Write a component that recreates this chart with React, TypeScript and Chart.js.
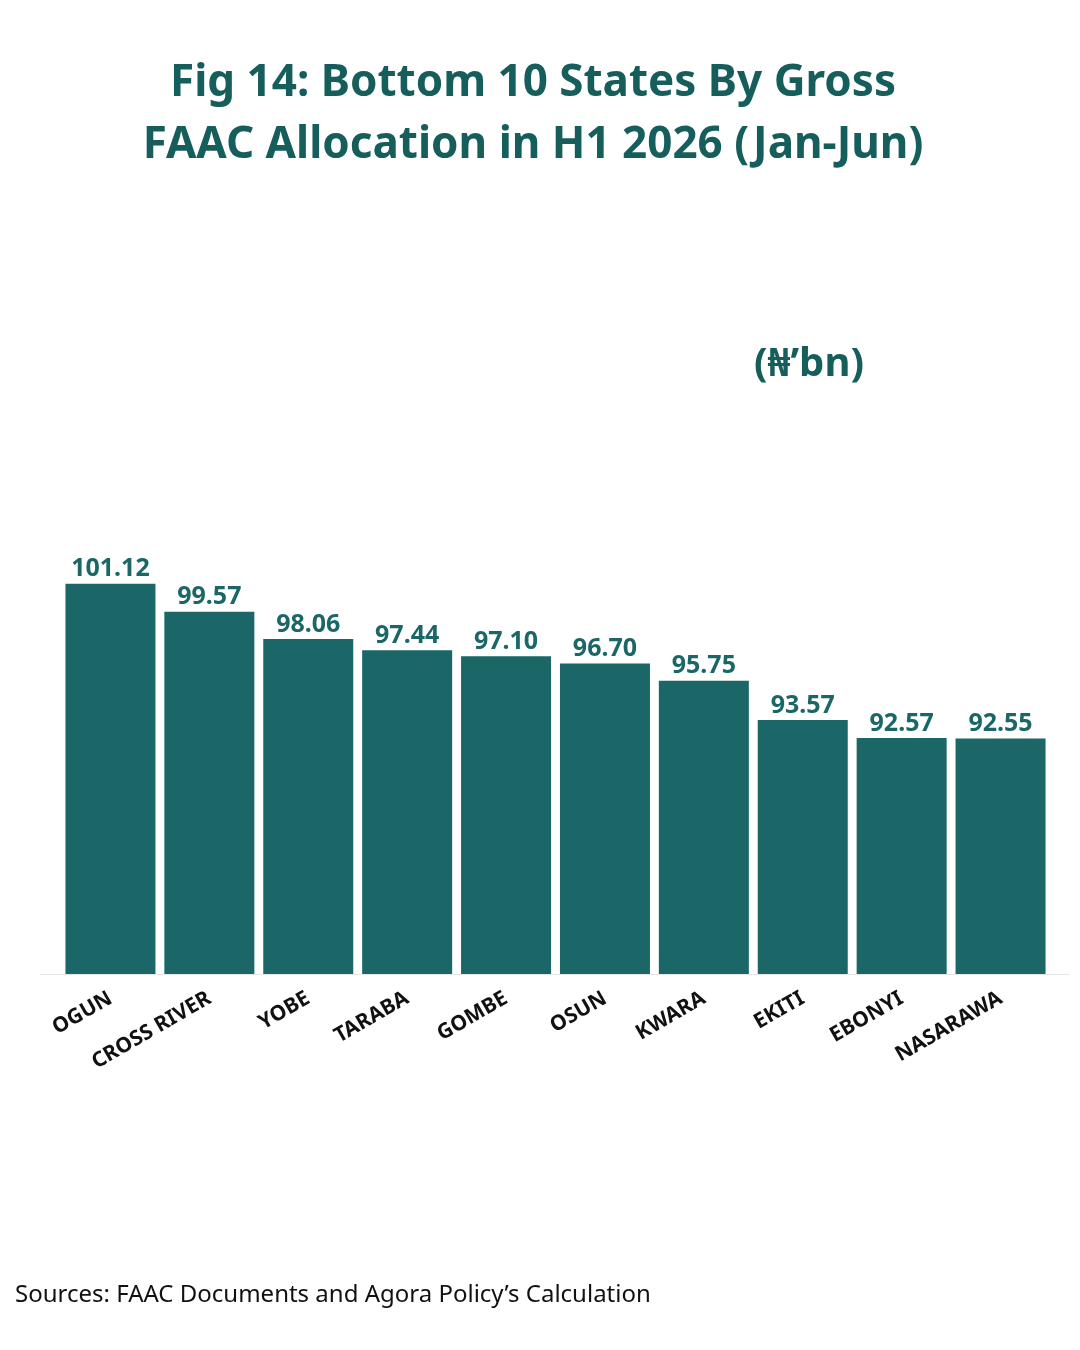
import React, { useEffect, useRef } from "react";
import { Chart, registerables } from "chart.js";
Chart.register(...registerables);

const categories = ["OGUN", "CROSS RIVER", "YOBE", "TARABA", "GOMBE", "OSUN", "KWARA", "EKITI", "EBONYI", "NASARAWA"];
const values = [101.12, 99.57, 98.06, 97.44, 97.1, 96.7, 95.75, 93.57, 92.57, 92.55];

const TEAL = "#1b6767";
const FONT = "'Noto Sans', 'Open Sans', sans-serif";

export default function App() {
  const ref = useRef<HTMLCanvasElement>(null);
  useEffect(() => {
    const labelsPlugin = {
      id: "vals",
      afterDatasetsDraw(chart: any) {
        const ctx = chart.ctx;
        const meta = chart.getDatasetMeta(0);
        ctx.save();
        ctx.fillStyle = TEAL;
        ctx.font = `bold 25px ${FONT}`;
        ctx.textAlign = "center";
        ctx.textBaseline = "bottom";
        meta.data.forEach((b: any, i: number) => {
          ctx.fillText(values[i].toFixed(2), b.x, b.y - 2);
        });
        const y = chart.chartArea.bottom + 0.5;
        ctx.strokeStyle = "#e6e6e6";
        ctx.lineWidth = 1;
        ctx.beginPath();
        ctx.moveTo(40, y);
        ctx.lineTo(1070, y);
        ctx.stroke();
        ctx.restore();
      },
    };
    const chart = new Chart(ref.current!, {
      type: "bar",
      data: {
        labels: categories,
        datasets: [{ data: values, backgroundColor: TEAL, categoryPercentage: 1, barPercentage: 0.91 }],
      },
      options: {
        animation: false,
        responsive: false,
        layout: { padding: { left: 61, right: 30, top: 400, bottom: 0 } },
        plugins: { legend: { display: false }, tooltip: { enabled: false } },
        scales: {
          y: { display: false, min: 79.5, max: 111.3 },
          x: {
            grid: { display: false },
            border: { display: false },
            ticks: { color: "#111", font: { family: FONT, size: 21, weight: "bold" }, maxRotation: 30, minRotation: 30, padding: 4 },
            afterFit: (s: any) => { s.height = 376; },
          },
        },
      },
      plugins: [labelsPlugin],
    });
    return () => chart.destroy();
  }, []);
  return (
    <div style={{ position: "absolute", left: 0, top: 0, width: 1080, height: 1350, background: "#fff", fontFamily: FONT }}>
      <canvas ref={ref} width={1080} height={1350} style={{ position: "absolute", left: 0, top: 0 }} />
      <div style={{ position: "absolute", top: 48, left: 0, width: 1066, textAlign: "center", color: "#165e5b", fontWeight: 700, fontSize: 44, lineHeight: "62px" }}>
        Fig 14: Bottom 10 States By Gross<br />FAAC Allocation in H1 2026 (Jan-Jun)
      </div>
      <div style={{ position: "absolute", top: 333, left: 754, color: "#165e5b", fontWeight: 700, fontSize: 40 }}>(₦’bn)</div>
      <div style={{ position: "absolute", top: 1276, left: 15, color: "#111", fontSize: 24 }}>Sources: FAAC Documents and Agora Policy’s Calculation</div>
    </div>
  );
}
